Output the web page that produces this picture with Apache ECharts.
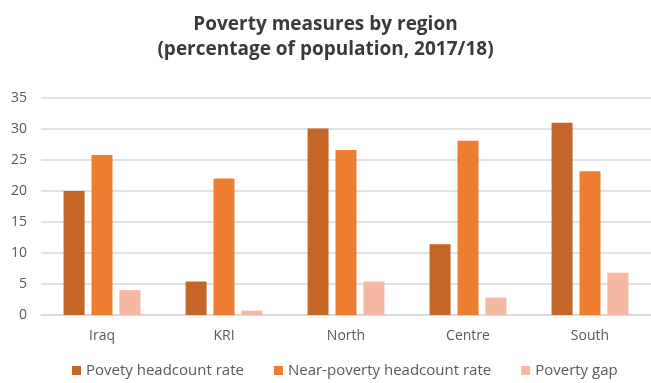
<!DOCTYPE html>
<html>
<head>
<meta charset="utf-8">
<script src="https://cdn.jsdelivr.net/npm/echarts@6/dist/echarts.min.js"></script>
<style>
  html, body { margin: 0; padding: 0; background: #fff; }
  #chart { width: 651px; height: 383px; }
</style>
</head>
<body>
<div id="chart"></div>
<script>
// Regions and poverty measures (percentage of population, 2017/18)
const regions = ['Iraq', 'KRI', 'North', 'Centre', 'South'];
const headcountRate = [20.0, 5.4, 30.1, 11.4, 31.0];
const nearPovertyRate = [25.8, 22.0, 26.6, 28.1, 23.2];
const povertyGap = [4.0, 0.7, 5.4, 2.8, 6.8];
const yTicks = [0, 5, 10, 15, 20, 25, 30, 35];

const seriesNames = ['Povety headcount rate', 'Near-poverty headcount rate', 'Poverty gap'];
const seriesColors = ['#C46628', '#ED7D31', '#F4B8A3'];
const seriesData = [headcountRate, nearPovertyRate, povertyGap];

const labelFont = '"Open Sans", sans-serif';

const chart = echarts.init(document.getElementById('chart'), null, { renderer: 'canvas' });
chart.setOption({
  animation: false,
  title: {
    text: 'Poverty measures by region\n(percentage of population, 2017/18)',
    left: 'center',
    top: 7,
    textStyle: {
      fontFamily: '"Open Sans", sans-serif',
      fontWeight: 'bold',
      fontSize: 19,
      lineHeight: 25,
      color: '#3a3a3a'
    }
  },
  legend: {
    bottom: 0,
    left: 67,
    itemWidth: 9,
    itemHeight: 9,
    itemGap: 30,
    icon: 'rect',
    textStyle: { fontFamily: labelFont, fontSize: 15, color: '#595959' },
    data: seriesNames
  },
  grid: { left: 41, right: 0, top: 98, bottom: 68 },
  xAxis: {
    type: 'category',
    data: regions,
    axisLine: { lineStyle: { color: '#d9d9d9', width: 1.5 } },
    axisTick: { show: false },
    axisLabel: { fontFamily: labelFont, fontSize: 14, color: '#595959', margin: 14 }
  },
  yAxis: {
    type: 'value',
    min: yTicks[0],
    max: yTicks[yTicks.length - 1],
    interval: 5,
    axisLine: { show: false },
    axisTick: { show: false },
    axisLabel: { fontFamily: labelFont, fontSize: 14, color: '#595959', margin: 14 },
    splitLine: { lineStyle: { color: '#d9d9d9', width: 1.5 } }
  },
  series: seriesNames.map((name, i) => ({
    name,
    type: 'bar',
    data: seriesData[i],
    barWidth: 21,
    barGap: '33%',
    itemStyle: { color: seriesColors[i] }
  }))
});
</script>
</body>
</html>
